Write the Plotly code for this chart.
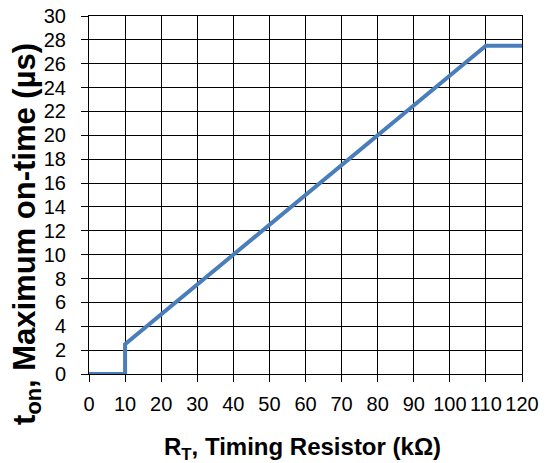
import plotly.graph_objects as go

x_vals = [0, 10, 10, 110, 120]
y_vals = [0, 0, 2.5, 27.5, 27.5]

x_ticks = list(range(0, 121, 10))
y_ticks = list(range(0, 31, 2))

x_title = "<b>R<sub>T</sub>, Timing Resistor (kΩ)</b>"
y_title = "<b>t<sub>on</sub>, Maximum on-time (µs)</b>"

FONT = "Liberation Sans, Arial"

fig = go.Figure()
fig.add_trace(go.Scatter(x=x_vals, y=y_vals, mode="lines",
                         line=dict(color="#4a7ebb", width=4), showlegend=False))

axis_common = dict(showgrid=True, gridcolor="black", gridwidth=1,
                   showline=True, linecolor="black", linewidth=1, mirror=True,
                   ticks="outside", ticklen=7, tickcolor="black", zeroline=False,
                   automargin=False, ticklabeloverflow="allow",
                   tickfont=dict(family=FONT, size=20, color="black"))

fig.update_xaxes(range=[0, 120], tickvals=x_ticks, ticklabelstandoff=5, **axis_common)
fig.update_yaxes(range=[0, 30], tickvals=y_ticks, ticklabelstandoff=11, **axis_common)

fig.add_annotation(text=x_title, xref="paper", yref="paper", x=0.492, y=-0.16,
                   xanchor="center", yanchor="top", showarrow=False,
                   font=dict(family=FONT, size=24, color="black"))
fig.add_annotation(text=y_title, xref="paper", yref="paper", x=-0.145, y=0.392,
                   xanchor="center", yanchor="middle", showarrow=False, textangle=-90,
                   font=dict(family=FONT, size=31, color="black"))

fig.update_layout(width=541, height=455, margin=dict(l=81, r=27, t=8, b=89),
                  plot_bgcolor="white", paper_bgcolor="white")

fig.write_html("out.html")
